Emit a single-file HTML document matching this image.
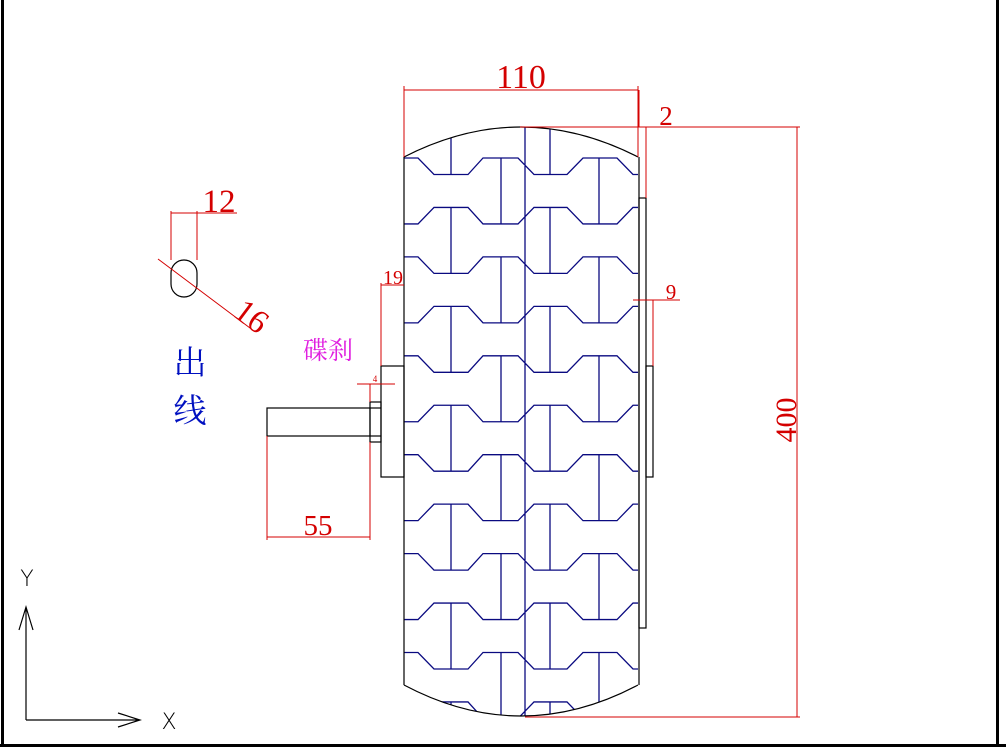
<!DOCTYPE html>
<html><head><meta charset="utf-8"><style>
html,body{margin:0;padding:0;background:#fff;}
svg{display:block;}
.r{stroke:#d40000;stroke-width:1;fill:none}
.k{stroke:#000;stroke-width:1.2;fill:none}
.b{stroke:#0a0a80;stroke-width:1.3;fill:none}
.t{fill:#d40000;font-family:"Liberation Serif",serif}
</style></head><body>
<svg id="s" width="1006" height="747" viewBox="0 0 1006 747" xmlns="http://www.w3.org/2000/svg">
<rect x="0" y="0" width="1006" height="747" fill="#fff"/>
<line x1="2.5" y1="0" x2="2.5" y2="747" stroke="#000" stroke-width="3"/>
<line x1="997.5" y1="0" x2="997.5" y2="747" stroke="#000" stroke-width="3"/>
<line x1="0" y1="745.5" x2="1006" y2="745.5" stroke="#000" stroke-width="3"/>
<defs><clipPath id="tc"><path d="M404,157 Q521,97 638,157 L638,685 Q521,747 404,685 Z"/></clipPath></defs>
<g id="tread" clip-path="url(#tc)" class="b"></g>
<path class="k" d="M404,157 Q521,97 638,157 M404,685 Q521,747 638,685 M404,157 V685 M639,157 V685"/>
<rect class="k" x="639" y="198" width="7" height="430"/>
<rect class="k" x="646" y="366" width="7" height="111"/>
<rect class="k" x="381" y="366" width="23" height="111"/>
<rect class="k" x="370" y="402" width="11" height="40"/>
<rect class="k" x="267" y="408" width="103" height="28"/>
<line class="k" x1="370" y1="408" x2="381" y2="408"/><line class="k" x1="370" y1="436" x2="381" y2="436"/>
<rect class="k" x="171" y="260" width="26" height="37" rx="13" ry="13"/>
<path class="r" d="M404,157 V86 M638,157 V86 M404,90 H638"/>
<text class="t" x="521" y="88" font-size="34" text-anchor="middle">110</text>
<path class="r" d="M520,127 H800 M639,127 V90 M646,127 V198 M632,127 H652"/>
<text class="t" x="666" y="125" font-size="27" text-anchor="middle">2</text>
<path class="r" d="M525,717 H800 M797,127 V717"/>
<text class="t" x="0" y="0" font-size="30" text-anchor="middle" transform="translate(796,420) rotate(-90)">400</text>
<path class="r" d="M633,300 H680 M653,300 V366"/>
<text class="t" x="671" y="299" font-size="21" text-anchor="middle">9</text>
<path class="r" d="M381,366 V283 M404,285 H381 M357,384 H395 M370,384 V402"/>
<text class="t" x="393" y="284" font-size="20" text-anchor="middle">19</text>
<text class="t" x="375" y="382" font-size="9" text-anchor="middle">4</text>
<path class="r" d="M267,436 V540 M370,442 V540 M267,537 H370"/>
<text class="t" x="318" y="535" font-size="29" text-anchor="middle">55</text>
<path class="r" d="M171,260 V211 M197,260 V211 M171,213 H237 M158,259 L254,331"/>
<text class="t" x="219" y="212" font-size="33" text-anchor="middle">12</text>
<text class="t" x="0" y="0" font-size="33" text-anchor="middle" transform="translate(245,325) rotate(37)">16</text>
<text x="328" y="359" font-size="25" fill="#e020e0" text-anchor="middle" font-family="'Noto Serif CJK SC','Noto Sans CJK SC',serif">碟刹</text>
<text x="190" y="374" font-size="33" fill="#0010c0" text-anchor="middle" font-family="'Noto Serif CJK SC','Noto Sans CJK SC',serif">出</text>
<text x="190" y="422" font-size="33" fill="#0010c0" text-anchor="middle" font-family="'Noto Serif CJK SC','Noto Sans CJK SC',serif">线</text>
<path class="k" d="M26,720 V607 M19,630 L26,607 L33,630 M26,720 H140 M118,713 L140,720 L118,727"/>
<text x="27" y="586" font-size="22" text-anchor="middle" font-family="'DejaVu Sans',sans-serif" font-weight="200" fill="#000">Y</text>
<text x="169" y="729" font-size="22" text-anchor="middle" font-family="'DejaVu Sans',sans-serif" font-weight="200" fill="#000">X</text>
</svg>
<script>
(function(){
var g=document.getElementById('tread'),d='';
var p=49.45;
for(var i=0;i<12;i++){
 var yh=158+p*i, yl=yh+16.5;
 var A=(i%2==0), a=A?yh:yl, b=A?yl:yh;
 d+='M404,'+a+' H418 L434,'+b+' H468 L483,'+a+' H518 L534,'+b+' H567 L583,'+a+' H617 L633,'+b+' H640 ';
}
for(var i=-1;i<12;i++){
 var yh=158+p*i;
 var yl1=158+p*(i+1)+16.5;
 if(i%2!=0 || i<0){
   var s=(i<0)?100:yh;
   d+='M451,'+s+' V'+yl1+' M550,'+s+' V'+yl1+' ';
 }
 if(i>=0 && i%2==0){
   var e=(i+1>=12)?740:yl1;
   d+='M501,'+yh+' V'+e+' M599,'+yh+' V'+e+' ';
 }
}
d+='M525,100 V740';
var pa=document.createElementNS('http://www.w3.org/2000/svg','path');
pa.setAttribute('d',d);g.appendChild(pa);
})();
</script>
</body></html>
